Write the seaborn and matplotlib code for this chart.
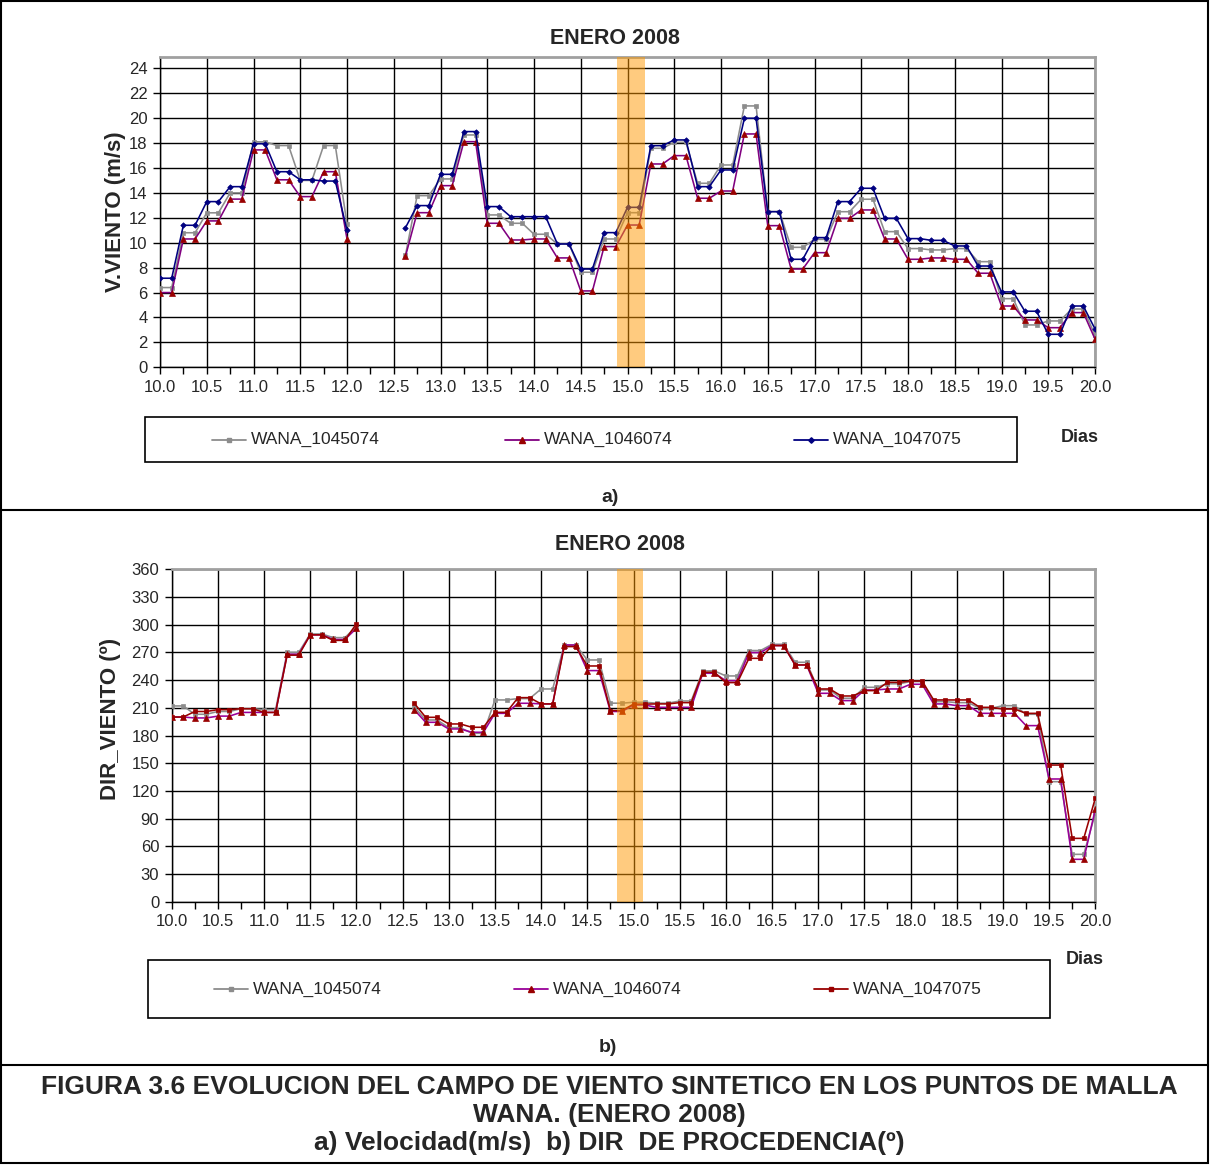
import numpy as np
import pandas as pd
import matplotlib
matplotlib.use("Agg")
import matplotlib.pyplot as plt
import seaborn as sns
from matplotlib.lines import Line2D
from matplotlib.patches import Rectangle
from matplotlib.ticker import MultipleLocator, FormatStrFormatter

sns.set_theme(style="white")
plt.rcParams['font.family'] = ['Liberation Sans', 'DejaVu Sans']

W, H = 1210, 1165

# 3-hourly time steps (day of January 2008); no data between 12.0 and 12.625
days_a = np.arange(10.0, 12.0001, 0.125)
days_b = np.arange(12.625, 20.0001, 0.125)

points = ["WANA_1045074", "WANA_1046074", "WANA_1047075"]

# ---- wind speed (m/s) ----
spd_1045074_a = [6.4, 6.4, 10.8, 10.8, 12.4, 12.4, 14.0, 14.0, 18.1, 18.1,
                 17.8, 17.8, 15.0, 15.0, 17.8, 17.8, 11.5]
spd_1046074_a = [6.0, 6.0, 10.3, 10.3, 11.75, 11.75, 13.5, 13.5, 17.45, 17.45,
                 15.05, 15.05, 13.7, 13.7, 15.7, 15.7, 10.3]
spd_1047075_a = [7.15, 7.15, 11.4, 11.4, 13.3, 13.3, 14.5, 14.5, 17.95, 17.95,
                 15.7, 15.7, 15.05, 15.05, 14.95, 14.95, 11.0]

spd_1045074_b = [9.0,
                 13.78, 13.78, 15.12, 15.12, 18.65, 18.65, 12.23, 12.23, 11.56, 11.56,
                 10.68, 10.68, 9.9, 9.9, 7.63, 7.63, 10.3, 10.3, 12.41, 12.41,
                 17.58, 17.58, 18.06, 18.06, 14.77, 14.77, 16.24, 16.24, 20.98, 20.98,
                 12.5, 12.5, 9.63, 9.63, 10.27, 10.27, 12.49, 12.49, 13.49, 13.49,
                 10.89, 10.89, 9.53, 9.53, 9.42, 9.42, 9.53, 9.53, 8.48, 8.48,
                 5.51, 5.51, 3.4, 3.4, 3.72, 3.72, 4.68, 4.68,
                 2.6]
spd_1046074_b = [8.9,
                 12.41, 12.41, 14.58, 14.58, 18.11, 18.11, 11.56, 11.56, 10.22, 10.22,
                 10.3, 10.3, 8.78, 8.78, 6.13, 6.13, 9.69, 9.69, 11.42, 11.42,
                 16.32, 16.32, 16.99, 16.99, 13.57, 13.57, 14.15, 14.15, 18.73, 18.73,
                 11.37, 11.37, 7.89, 7.89, 9.2, 9.2, 11.96, 11.96, 12.63, 12.63,
                 10.3, 10.3, 8.67, 8.67, 8.78, 8.78, 8.67, 8.67, 7.55, 7.55,
                 4.92, 4.92, 3.8, 3.8, 3.18, 3.18, 4.39, 4.39,
                 2.27]
spd_1047075_b = [11.2,
                 12.98, 12.98, 15.49, 15.49, 18.92, 18.92, 12.9, 12.9, 12.09, 12.09,
                 12.09, 12.09, 9.9, 9.9, 7.89, 7.89, 10.81, 10.81, 12.84, 12.84,
                 17.79, 17.79, 18.25, 18.25, 14.5, 14.5, 15.84, 15.84, 19.99, 19.99,
                 12.49, 12.49, 8.67, 8.67, 10.41, 10.41, 13.3, 13.3, 14.37, 14.37,
                 11.96, 11.96, 10.33, 10.33, 10.19, 10.19, 9.74, 9.74, 8.13, 8.13,
                 6.05, 6.05, 4.5, 4.5, 2.65, 2.65, 4.92, 4.92,
                 3.08]

# ---- wind direction (degrees, coming from) ----
dir_1045074_a = [212, 212, 203, 203, 206, 206, 209, 209, 208, 208,
                 270, 270, 290, 290, 286, 286, 298]
dir_1046074_a = [200, 200, 199, 199, 201, 201, 205, 205, 205, 205,
                 268, 268, 289, 289, 284, 284, 296]
dir_1047075_a = [200, 200, 206, 206, 208, 208, 209, 209, 205, 205,
                 267, 267, 289, 289, 283, 283, 301]

dir_1045074_b = [211,
                 196.8, 196.8, 188.5, 188.5, 182.4, 182.4, 218.5, 218.5, 220, 220,
                 230.4, 230.4, 278, 278, 261.8, 261.8, 215, 215, 216, 216,
                 215, 215, 217.4, 217.4, 250, 250, 244.5, 244.5, 272, 272,
                 278.8, 278.8, 259.3, 259.3, 229.3, 229.3, 220.3, 220.3, 232.2, 232.2,
                 236, 236, 238.4, 238.4, 216.7, 216.7, 215.6, 215.6, 209.5, 209.5,
                 212.3, 212.3, 203, 203, 130, 130, 51.3, 51.3,
                 95.7]
dir_1046074_b = [208,
                 194.3, 194.3, 187.1, 187.1, 183.5, 183.5, 204, 204, 214.9, 214.9,
                 214.2, 214.2, 278, 278, 250.3, 250.3, 206, 206, 213, 213,
                 210.5, 210.5, 210.5, 210.5, 247.4, 247.4, 239.4, 239.4, 269.8, 269.8,
                 277.4, 277.4, 256.4, 256.4, 225.7, 225.7, 217.8, 217.8, 229.3, 229.3,
                 230.4, 230.4, 235.5, 235.5, 214.2, 214.2, 212.3, 212.3, 204, 204,
                 204, 204, 190.7, 190.7, 132.9, 132.9, 45.9, 45.9,
                 100]
dir_1047075_b = [215,
                 199.7, 199.7, 192.5, 192.5, 188.9, 188.9, 205.1, 205.1, 221, 221,
                 214.2, 214.2, 276.3, 276.3, 255.3, 255.3, 207, 207, 214, 214,
                 214.2, 214.2, 215.6, 215.6, 248.5, 248.5, 237.3, 237.3, 263.6, 263.6,
                 277.4, 277.4, 256.4, 256.4, 230.4, 230.4, 222.8, 222.8, 228.6, 228.6,
                 237.6, 237.6, 239, 239, 218.5, 218.5, 218.5, 218.5, 210.5, 210.5,
                 208.7, 208.7, 204, 204, 148, 148, 68.6, 68.6,
                 112]

speed = {
    "WANA_1045074": (spd_1045074_a, spd_1045074_b),
    "WANA_1046074": (spd_1046074_a, spd_1046074_b),
    "WANA_1047075": (spd_1047075_a, spd_1047075_b),
}
direction = {
    "WANA_1045074": (dir_1045074_a, dir_1045074_b),
    "WANA_1046074": (dir_1046074_a, dir_1046074_b),
    "WANA_1047075": (dir_1047075_a, dir_1047075_b),
}


def long_table(series):
    rows = []
    for name in points:
        seg_a, seg_b = series[name]
        for d, v in zip(days_a, seg_a):
            rows.append((name, "a", d, v))
        for d, v in zip(days_b, seg_b):
            rows.append((name, "b", d, v))
    return pd.DataFrame(rows, columns=["point", "segment", "day", "value"])


df_speed = long_table(speed)
df_dir = long_table(direction)

GREY = "#8c8c8c"
PURPLE = "#800080"
MAGENTA = "#990099"
NAVY = "#000080"
DARKRED = "#990000"

styles_speed = {
    "WANA_1045074": dict(color=GREY, marker="s", mfc=GREY, ms=3.0),
    "WANA_1046074": dict(color=PURPLE, marker="^", mfc=DARKRED, ms=3.8),
    "WANA_1047075": dict(color=NAVY, marker="D", mfc=NAVY, ms=2.8),
}
styles_dir = {
    "WANA_1045074": dict(color=GREY, marker="s", mfc=GREY, ms=3.0),
    "WANA_1046074": dict(color=MAGENTA, marker="^", mfc=DARKRED, ms=3.8),
    "WANA_1047075": dict(color=DARKRED, marker="s", mfc=DARKRED, ms=3.2),
}


def fx(x):
    return x / W


def fy(y):
    return 1 - y / H


fig = plt.figure(figsize=(W / 100, H / 100), dpi=100)
fig.patch.set_facecolor("white")


def draw_panel(ax, df, styles, ymax, ystep, band, ylabel, label_xy):
    for name in points:
        st = styles[name]
        sub = df[df["point"] == name]
        sns.lineplot(data=sub, x="day", y="value", units="segment",
                     estimator=None, sort=False, ax=ax, legend=False,
                     color=st["color"], linewidth=1.15, marker=st["marker"],
                     markersize=st["ms"], markerfacecolor=st["mfc"],
                     markeredgecolor=st["mfc"], markeredgewidth=0.5, zorder=3)
    ax.set_xlim(10.0, 20.0)
    ax.set_ylim(0, ymax)
    ax.xaxis.set_major_locator(MultipleLocator(0.5))
    ax.xaxis.set_minor_locator(MultipleLocator(0.25))
    ax.xaxis.set_major_formatter(FormatStrFormatter("%.1f"))
    ax.yaxis.set_major_locator(MultipleLocator(ystep))
    ax.grid(True, which="major", color="black", linewidth=1.0, zorder=1)
    ax.set_axisbelow(True)
    ax.tick_params(axis="both", which="major", direction="out", length=5,
                   width=1, color="black", labelsize=12, pad=4,
                   bottom=True, left=True)
    ax.tick_params(axis="x", which="minor", direction="out", length=5,
                   width=1, color="black", bottom=True)
    for s in ("left", "bottom"):
        ax.spines[s].set_color("black")
        ax.spines[s].set_linewidth(1.0)
    for s in ("top", "right"):
        ax.spines[s].set_color("#a0a0a0")
        ax.spines[s].set_linewidth(2.0)
    ax.axvspan(band[0], band[1], color="#FF9900", alpha=0.5, lw=0, zorder=6)
    ax.set_xlabel("")
    ax.set_ylabel(ylabel, fontsize=16, fontweight="bold")
    ax.yaxis.set_label_coords(*label_xy)


# panel a) wind speed
ax1 = fig.add_axes([fx(160), fy(367.3), fx(1095 - 160), (367.3 - 56.7) / H])
draw_panel(ax1, df_speed, styles_speed, 24 * (367.3 - 56.7) / (367.3 - 68.3), 2,
           (14.89, 15.19), "V.VIENTO (m/s)", ((126 - 160) / 935, 0.5))

# panel b) wind direction
ax2 = fig.add_axes([fx(171.7), fy(901.7), fx(1095.3 - 171.7), (901.7 - 569.3) / H])
draw_panel(ax2, df_dir, styles_dir, 360, 30,
           (14.82, 15.10), "DIR_VIENTO (º)", ((121 - 171.7) / 923.6, 0.55))

fig.text(fx(615), fy(38), "ENERO 2008", ha="center", va="center",
         fontsize=15.5, fontweight="bold")
fig.text(fx(620), fy(545), "ENERO 2008", ha="center", va="center",
         fontsize=15.5, fontweight="bold")


def legend_box(x0, x1, y0, y1, entries, styles):
    fig.add_artist(Rectangle((fx(x0), fy(y1)), fx(x1 - x0), (y1 - y0) / H,
                             transform=fig.transFigure, fill=False,
                             edgecolor="black", linewidth=1.2))
    yc = fy((y0 + y1) / 2)
    for name, hx in entries:
        st = styles[name]
        fig.add_artist(Line2D([fx(hx), fx(hx + 34)], [yc, yc],
                              transform=fig.transFigure, color=st["color"],
                              linewidth=1.3))
        fig.add_artist(Line2D([fx(hx + 17)], [yc], transform=fig.transFigure,
                              marker=st["marker"], markersize=st["ms"],
                              markerfacecolor=st["mfc"], markeredgecolor=st["mfc"],
                              linestyle="none"))
        fig.text(fx(hx + 39), yc, name, ha="left", va="center", fontsize=12.5)


legend_box(145, 1017, 417, 462,
           [("WANA_1045074", 212), ("WANA_1046074", 505), ("WANA_1047075", 794)],
           styles_speed)
legend_box(148, 1050, 960, 1018,
           [("WANA_1045074", 214), ("WANA_1046074", 514), ("WANA_1047075", 814)],
           styles_dir)

fig.text(fx(1080), fy(437), "Dias", ha="center", va="center",
         fontsize=13, fontweight="bold")
fig.text(fx(1085), fy(960), "Dias", ha="center", va="center",
         fontsize=13, fontweight="bold")
fig.text(fx(610), fy(497), "a)", ha="center", va="center",
         fontsize=14, fontweight="bold")
fig.text(fx(608), fy(1048), "b)", ha="center", va="center",
         fontsize=14, fontweight="bold")

caption = ["FIGURA 3.6 EVOLUCION DEL CAMPO DE VIENTO SINTETICO EN LOS PUNTOS DE MALLA",
           "WANA. (ENERO 2008)",
           "a) Velocidad(m/s)  b) DIR  DE PROCEDENCIA(º)"]
for line, ypix in zip(caption, (1087, 1115, 1143)):
    fig.text(fx(609), fy(ypix), line, ha="center", va="center",
             fontsize=19, fontweight="bold")

# frame of the figure and separators
fig.add_artist(Rectangle((fx(1), fy(1163)), fx(1207), 1162 / H,
                         transform=fig.transFigure, fill=False,
                         edgecolor="black", linewidth=1.5))
for ypix in (510, 1065):
    fig.add_artist(Line2D([fx(1), fx(1208)], [fy(ypix), fy(ypix)],
                          transform=fig.transFigure, color="black", linewidth=1.5))

fig.savefig("out.png", dpi=100, facecolor="white")
